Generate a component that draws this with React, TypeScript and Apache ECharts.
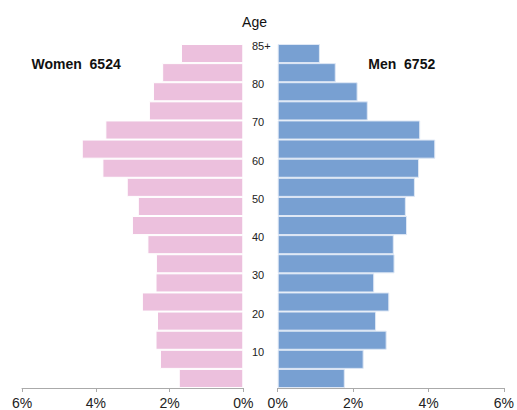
import React, { useEffect, useRef } from "react";
import * as echarts from "echarts";

const ageGroups = ["0-4","5-9","10-14","15-19","20-24","25-29","30-34","35-39","40-44","45-49","50-54","55-59","60-64","65-69","70-74","75-79","80-84","85+"];
const women = [1.75,2.26,2.38,2.34,2.75,2.38,2.37,2.6,3.02,2.86,3.16,3.82,4.38,3.74,2.56,2.45,2.2,1.69];
const men = [1.78,2.28,2.89,2.61,2.96,2.56,3.1,3.08,3.43,3.4,3.64,3.75,4.18,3.78,2.39,2.12,1.54,1.12];
const xTicks = [0, 2, 4, 6];
const ageTickLabels: Record<number, string> = { 10: "10", 20: "20", 30: "30", 40: "40", 50: "50", 60: "60", 70: "70", 80: "80", 90: "85+" };
const titleText = "Age";
const womenLabel = "Women  6524";
const menLabel = "Men  6752";

const FONT = "Arial, 'Liberation Sans', sans-serif";

export default function App() {
  const ref = useRef<HTMLDivElement>(null);
  useEffect(() => {
    const chart = echarts.init(ref.current!, null, { renderer: "svg" });
    const axisCommon = {
      type: "value" as const,
      min: xTicks[0],
      max: xTicks[xTicks.length - 1],
      interval: 2,
      splitLine: { show: false },
      axisLine: { show: true, lineStyle: { color: "#aaaaaa", width: 1 } },
      axisTick: { show: true, length: 4, lineStyle: { color: "#aaaaaa" } },
      axisLabel: { formatter: "{value}%", fontSize: 14, color: "#222", fontFamily: FONT, margin: 8 },
    };
    const catAxis = {
      type: "category" as const,
      data: ageGroups,
      show: false,
    };
    chart.setOption({
      animation: false,
      backgroundColor: "#ffffff",
      grid: [
        { left: 22, width: 221.3, top: 44, bottom: 22 },
        { left: 277.7, width: 227.3, top: 44, bottom: 22 },
        { left: 252, width: 1, top: 46, bottom: 20 },
      ],
      xAxis: [
        { ...axisCommon, gridIndex: 0, inverse: true },
        { ...axisCommon, gridIndex: 1 },
        { type: "value", gridIndex: 2, show: false, min: 0, max: 1 },
      ],
      yAxis: [
        { ...catAxis, gridIndex: 0 },
        { ...catAxis, gridIndex: 1 },
        {
          type: "value",
          gridIndex: 2,
          min: 0,
          max: 90,
          interval: 10,
          axisLine: { show: false },
          axisTick: { show: false },
          splitLine: { show: false },
          axisLabel: {
            inside: true,
            margin: 0,
            fontSize: 11,
            color: "#222",
            fontFamily: FONT,
            formatter: (v: number) => ageTickLabels[v] ?? "",
          },
        },
      ],
      series: [
        {
          type: "bar",
          xAxisIndex: 0,
          yAxisIndex: 0,
          data: women,
          barCategoryGap: 0,
          itemStyle: { color: "#ecc0dd", borderColor: "#ffffff", borderWidth: 1 },
        },
        {
          type: "bar",
          xAxisIndex: 1,
          yAxisIndex: 1,
          data: men,
          barCategoryGap: 0,
          itemStyle: { color: "#78a0d2", borderColor: "#dfe8f5", borderWidth: 1 },
        },
      ],
      graphic: [
        {
          type: "text",
          x: 254.5,
          y: 21.5,
          style: { text: titleText, font: `14px ${FONT}`, fill: "#111", align: "center", verticalAlign: "middle" },
        },
        {
          type: "text",
          x: 31.5,
          y: 64,
          style: { text: womenLabel, font: `bold 14px ${FONT}`, fill: "#111", align: "left", verticalAlign: "middle" },
        },
        {
          type: "text",
          x: 368.3,
          y: 64,
          style: { text: menLabel, font: `bold 14px ${FONT}`, fill: "#111", align: "left", verticalAlign: "middle" },
        },
      ],
    });
    return () => chart.dispose();
  }, []);
  return <div ref={ref} style={{ width: 517, height: 410, position: "absolute", left: 0, top: 0 }} />;
}
